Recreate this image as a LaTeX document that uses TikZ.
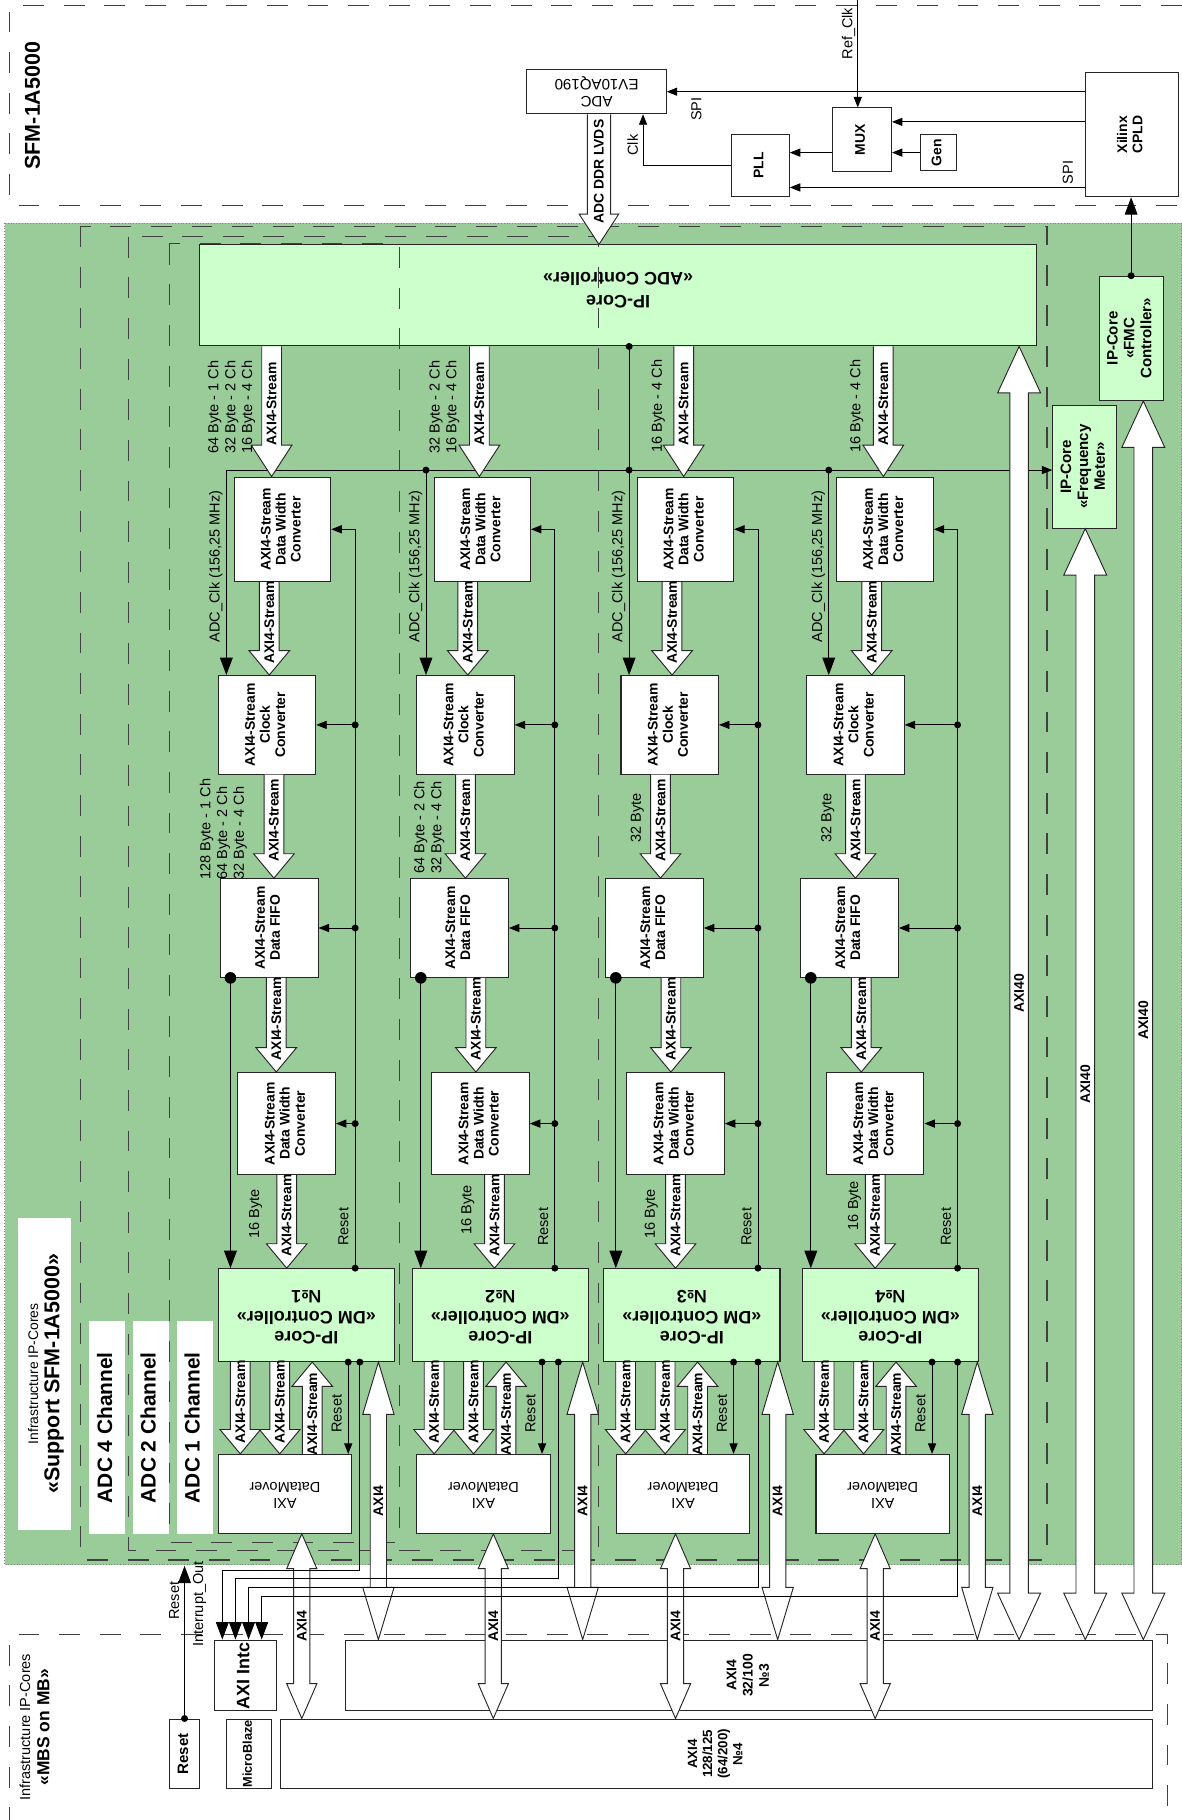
\documentclass[tikz,border=0pt]{standalone}
\usepackage{fontspec}
\setmainfont{Liberation Sans}
\usetikzlibrary{arrows.meta,calc}
\definecolor{BoardGreen}{HTML}{99CC99}
\definecolor{CoreGreen}{HTML}{CCFFCC}
\newcommand{\vtx}[1]{\rotatebox{90}{\begin{tabular}{@{}c@{}}#1\end{tabular}}}
\newcommand{\utx}[1]{\rotatebox{180}{\begin{tabular}{@{}c@{}}#1\end{tabular}}}
\tikzset{bshaft/.store in=\bsw,bhead/.store in=\bhw,bhlen/.store in=\bhl,
  bshaft=8.5pt,bhead=17.5pt,bhlen=21pt}
% hollow bus arrow at x=#2, from anchor #3 to anchor #4 (head at #4)
\newcommand{\busone}[5][]{%
  \filldraw[bus,#1] let \p1=(#3), \p2=(#4), \p3=(#2,0), \n1={sign(\y1-\y2)} in
    ({\x3-\bsw},\y1) -- ({\x3-\bsw},{\y2+\n1*\bhl}) -- ({\x3-\bhw},{\y2+\n1*\bhl})
    -- (\x3,\y2) -- ({\x3+\bhw},{\y2+\n1*\bhl}) -- ({\x3+\bsw},{\y2+\n1*\bhl})
    -- ({\x3+\bsw},\y1)
    node[buslbl] at (\x3,{(\y1+\y2+\n1*\bhl/2)/2}) {#5};}
% the same with a head at both ends
\newcommand{\bustwo}[5][]{%
  \filldraw[bus,#1] let \p1=(#3), \p2=(#4), \p3=(#2,0), \n1={sign(\y1-\y2)} in
    ({\x3-\bsw},{\y1-\n1*\bhl}) -- ({\x3-\bhw},{\y1-\n1*\bhl}) -- (\x3,\y1)
    -- ({\x3+\bhw},{\y1-\n1*\bhl}) -- ({\x3+\bsw},{\y1-\n1*\bhl})
    -- ({\x3+\bsw},{\y2+\n1*\bhl}) -- ({\x3+\bhw},{\y2+\n1*\bhl}) -- (\x3,\y2)
    -- ({\x3-\bhw},{\y2+\n1*\bhl}) -- ({\x3-\bsw},{\y2+\n1*\bhl}) -- cycle
    node[buslbl] at (\x3,{(\y1+\y2)/2}) {#5};}

\begin{document}
\begin{tikzpicture}[x=1pt,y=-1pt,>={Triangle[length=9pt,width=7pt]}]
  \tikzstyle{wbox}=[draw=black!85,fill=white,line width=0.9pt,inner sep=0pt,
    font=\bfseries\fontsize{12}{13}\selectfont]
  \tikzstyle{gbox}=[wbox,fill=CoreGreen]
  \tikzstyle{tag}=[fill=white,inner sep=0pt]
  \tikzstyle{lbl}=[inner sep=0pt,rotate=90,font=\fontsize{12.5}{14.5}\selectfont]
  \tikzstyle{bus}=[draw=black!85,fill=white,line width=0.8pt,line join=miter]
  \tikzstyle{buslbl}=[inner sep=0pt,rotate=90,font=\bfseries\fontsize{12}{13}\selectfont]
  \tikzstyle{sig}=[draw=black,line width=0.75pt]
  \tikzstyle{big}=[-{Triangle[length=15pt,width=11pt]}]
  \tikzstyle{frame}=[draw=black!75,line width=0.9pt,dash pattern=on 18pt off 17pt]
  \useasboundingbox (0,0) rectangle (1018,1568);

  % SFM-1A5000 board
  \draw[frame] (1018,5) -- (8,5) -- (8,177) -- (1018,177);
  \node[rotate=90,font=\bfseries\fontsize{18.5}{20}\selectfont] (sfm) at (28,91) {SFM-1A5000};
  \node[wbox,font=\fontsize{13}{15}\selectfont,minimum width=120pt,minimum height=38pt] (adc) at (514,79) {\utx{ADC\\EV10AQ190}};
  \node[wbox,minimum width=51pt,minimum height=55pt] (mux) at (742.5,120.5) {\vtx{MUX}};
  \node[wbox,minimum width=31pt,minimum height=31pt] (gen) at (808.5,131.5) {\vtx{Gen}};
  \node[wbox,minimum width=50pt,minimum height=53pt] (pll) at (655,142.5) {\vtx{PLL}};
  \node[wbox,minimum width=80pt,minimum height=107pt] (cpld) at (975,116) {\vtx{Xilinx\\CPLD}};
  \coordinate (refclk) at (739,0);
  \draw[sig,->] (refclk) -- (refclk |- mux.north);
  \node[lbl,anchor=south] at (737,29) {Ref\_Clk};
  \draw[sig,->] (cpld.west |- adc.east) -- (adc.east);
  \node[lbl] at (600,94) {SPI};
  \draw[sig,->] ($(cpld.west)+(0,-11)$) coordinate (spa) -- (spa -| mux.east);
  \draw[sig,->] (gen.west) -- (gen.west -| mux.east);
  \draw[sig,->] (gen.west -| mux.west) -- (gen.west -| pll.east);
  \draw[sig,->] ($(cpld.west)+(0,45.5)$) coordinate (spb) -- (spb -| pll.east);
  \node[lbl] at (920,148.5) {SPI};
  \draw[sig,->] (pll.west) -| ($(adc.south)+(40,0)$);
  \node[lbl] at (545,125) {Clk};

  % FPGA area
  \draw[gray,dotted,fill=BoardGreen] (4,192) rectangle (1018,1348);
  \node[gbox,font=\bfseries\fontsize{15.5}{20}\selectfont,minimum width=721pt,minimum height=87pt] (adcc) at (532.5,254.5) {\utx{\rule{0pt}{26pt}IP-Core\\«ADC Controller»}};
  \draw[frame] (69,195) rectangle (902,1344);
  \draw[frame] (111,204) rectangle (516,1336);
  \draw[frame] (146,210) rectangle (344,1329);
  \node[tag,minimum width=46pt,minimum height=269pt,font=\bfseries\fontsize{18.5}{18}\selectfont] (sup) at (38.5,1183.5)
    {\vtx{{\mdseries\fontsize{12}{14}\selectfont Infrastructure IP-Cores}\\«Support SFM-1A5000»}};
  \foreach \k/\xx in {4/92.5,2/130,1/168}
    \node[tag,minimum width=31pt,minimum height=184pt,font=\bfseries\fontsize{18}{20}\selectfont] (ch\k) at (\xx,1230) {\vtx{ADC \k\ Channel}};
  \node[gbox,font=\bfseries\fontsize{13}{14.5}\selectfont,minimum width=55pt,minimum height=107pt] (fmc) at (974.5,291.5) {\vtx{IP-Core\\«FMC\\Controller»}};
  \node[gbox,font=\bfseries\fontsize{13}{14.5}\selectfont,minimum width=55pt,minimum height=106pt] (freq) at (934.5,402) {\vtx{IP-Core\\«Frequency\\Meter»}};
  \draw[sig,big] (fmc.north) -- (fmc.north |- cpld.south);
  \fill (fmc.north) circle (3pt);
  \busone[bshaft=10pt,bhead=17pt,bhlen=26pt]{516}{adc.south}{adcc.north}{ADC DDR LVDS};

  % MicroBlaze system
  \draw[frame] (8,1575) -- (8,1408) -- (1006,1408) -- (1006,1575);
  \node[font=\bfseries\fontsize{15}{16.5}\selectfont,inner sep=0pt] (mbs) at (31,1488)
    {\vtx{{\mdseries\fontsize{12.5}{14}\selectfont Infrastructure IP-Cores}\\«MBS on MB»}};
  \node[wbox,font=\bfseries\fontsize{15.5}{17}\selectfont,minimum width=53pt,minimum height=61pt] (intc) at (211.5,1443.5) {\vtx{AXI Intc}};
  \node[wbox,font=\bfseries\fontsize{12}{14}\selectfont,minimum width=695pt,minimum height=61pt] (n3) at (645.5,1443.5) {\vtx{AXI4\\32/100\\№3}};
  \node[wbox,font=\bfseries\fontsize{11.5}{13}\selectfont,minimum width=751pt,minimum height=60pt] (n4) at (617.5,1511) {\vtx{AXI4\\128/125\\(64/200)\\№4}};
  \node[wbox,font=\bfseries\fontsize{13}{15}\selectfont,minimum width=26pt,minimum height=60pt] (rst) at (159,1511) {\vtx{Reset}};
  \node[wbox,font=\bfseries\fontsize{11}{13}\selectfont,minimum width=39pt,minimum height=60pt] (mb) at (214.5,1511) {\vtx{MicroBlaze}};
  \coordinate (rtop) at (159,1349);
  \draw[sig,big] (rst.north) -- (rtop);
  \fill (rst.north) circle (3pt);
  \node[lbl] at (150,1379) {Reset};
  \node[lbl] at (172,1382) {Interrupt\_Out};

  % clock bus
  \coordinate (clk) at (195,405);
  \draw[sig,->] (clk) -- (clk -| freq.west);

  % ADC channels
  \foreach \k/\ck/\ga/\gb/\gf/\gd/\gm/\gv/\rs/\iq/\sa/\sb/\sc/\sd/\se/\bx/\bv in {
      1/195/202/188/190/205/188/188/306/310/234/232/236/238/247/326/260,
      2/367/374/359/354/372/355/359/478/481/413/403/401/410/426/502/425,
      3/542/549/535/522/540/520/531/653/653/589/579/569/578/582/670/582,
      4/714/721/695/690/712/691/703/825/825/761/751/737/742/754/842/754}{
    \node[wbox,minimum width=83pt,minimum height=90pt] (dwa\k) at (\ga+41.5,456) {\vtx{AXI4-Stream\\Data Width\\Converter}};
    \node[wbox,minimum width=84pt,minimum height=85pt] (cc\k) at (\gb+42,624.5) {\vtx{AXI4-Stream\\Clock\\Converter}};
    \node[wbox,minimum width=84pt,minimum height=85pt] (fifo\k) at (\gf+42,799.5) {\vtx{AXI4-Stream\\Data FIFO}};
    \node[wbox,minimum width=84pt,minimum height=88pt] (dwb\k) at (\gd+42,968) {\vtx{AXI4-Stream\\Data Width\\Converter}};
    \node[gbox,font=\bfseries\fontsize{15.5}{17.5}\selectfont,minimum width=152pt,minimum height=80pt] (dm\k) at (\gm+76,1133) {\utx{IP-Core\\«DM Controller»\\№\k}};
    \node[wbox,font=\fontsize{12.5}{14.5}\selectfont,minimum width=115pt,minimum height=68pt] (mov\k) at (\gv+57.5,1287) {\utx{AXI\\DataMover}};
    \busone[bhlen=27pt]{\sa}{adcc.south}{dwa\k.north}{AXI4-Stream}
    \busone{\sb}{dwa\k.south}{cc\k.north}{AXI4-Stream}
    \busone{\sc}{cc\k.south}{fifo\k.north}{AXI4-Stream}
    \busone{\sd}{fifo\k.south}{dwb\k.north}{AXI4-Stream}
    \busone{\se}{dwb\k.south}{dm\k.north}{AXI4-Stream}
    \busone{\gm+19}{dm\k.south}{mov\k.north}{AXI4-Stream}
    \busone{\gm+53}{dm\k.south}{mov\k.north}{AXI4-Stream}
    \busone{\gm+81}{mov\k.north}{dm\k.south}{AXI4-Stream}
    \bustwo[bshaft=7pt,bhead=13.5pt,bhlen=45pt]{\bx}{dm\k.south}{n3.north}{AXI4}
    \bustwo[bshaft=7pt,bhead=13pt,bhlen=30pt]{\bv}{mov\k.south}{n4.north}{AXI4}
    % clock
    \coordinate (c\k) at (\ck,405);
    \draw[sig,big] (c\k) -- (c\k |- cc\k.north);
    \node[lbl] at (\ck-9,488) {ADC\_Clk (156,25 MHz)};
    % reset
    \coordinate (r\k) at (\rs,0);
    \draw[sig,->] (r\k |- dm\k.north) |- (dwa\k.east);
    \fill (r\k |- dm\k.north) circle (3pt);
    \foreach \nm in {cc,fifo,dwb}{
      \draw[sig,->] (r\k |- \nm\k.east) -- (\nm\k.east);
      \fill (r\k |- \nm\k.east) circle (3pt);}
    \node[lbl] at (\rs-10,1057) {Reset};
    \coordinate (d\k) at (\gm+112,0);
    \draw[sig,->] (d\k |- dm\k.south) -- (d\k |- mov\k.north);
    \fill (d\k |- dm\k.south) circle (3pt);
    \node[lbl] at (\gm+102,1218) {Reset};
    % fifo flag
    \draw[sig,big] ([xshift=9pt]fifo\k.south west) coordinate (f\k) -- (f\k |- dm\k.north);
    \fill (f\k) circle (5pt);
    \coordinate (q\k) at (\iq,0);
    \fill (q\k |- dm\k.south) circle (3pt);
  }
  \draw[sig] (c3 |- adcc.south) -- (c3);
  \fill (c3 |- adcc.south) circle (3pt);
  \foreach \k in {2,3,4} \fill (c\k) circle (3pt);

  % AXI buses to the MicroBlaze side
  \bustwo[bshaft=8pt,bhead=18.5pt,bhlen=40pt]{878}{adcc.south}{n3.north}{AXI40}
  \bustwo[bshaft=8pt,bhead=18.5pt,bhlen=40pt]{935}{freq.south}{n3.north}{AXI40}
  \bustwo[bshaft=8pt,bhead=18.5pt,bhlen=40pt]{985}{fmc.south}{n3.north}{AXI40}

  % interrupts
  \foreach \k in {1,2,3,4}
    \draw[sig,big] (q\k |- dm\k.south) -- ++(0,{171.6+7.6*\k}) -| ([xshift={11.3*\k-4.3}]intc.north west);

  % data widths
  \node[lbl,align=left,anchor=south west] at (220,391) {64 Byte - 1 Ch\\32 Byte - 2 Ch\\16 Byte - 4 Ch};
  \node[lbl,align=left,anchor=south west] at (396,391) {32 Byte - 2 Ch\\16 Byte - 4 Ch};
  \node[lbl,align=left,anchor=south west] at (573,390) {16 Byte - 4 Ch};
  \node[lbl,align=left,anchor=south west] at (744,390) {16 Byte - 4 Ch};
  \node[lbl,align=left,anchor=south west] at (213,758) {128 Byte - 1 Ch\\64 Byte - 2 Ch\\32 Byte - 4 Ch};
  \node[lbl,align=left,anchor=south west] at (383,753) {64 Byte - 2 Ch\\32 Byte - 4 Ch};
  \node[lbl,anchor=south west] at (555,726) {32 Byte};
  \node[lbl,anchor=south west] at (719,726) {32 Byte};
  \node[lbl,anchor=south west] at (226,1067) {16 Byte};
  \node[lbl,anchor=south west] at (409,1064) {16 Byte};
  \node[lbl,anchor=south west] at (567,1067) {16 Byte};
  \node[lbl,anchor=south west] at (742,1060) {16 Byte};
\end{tikzpicture}
\end{document}
